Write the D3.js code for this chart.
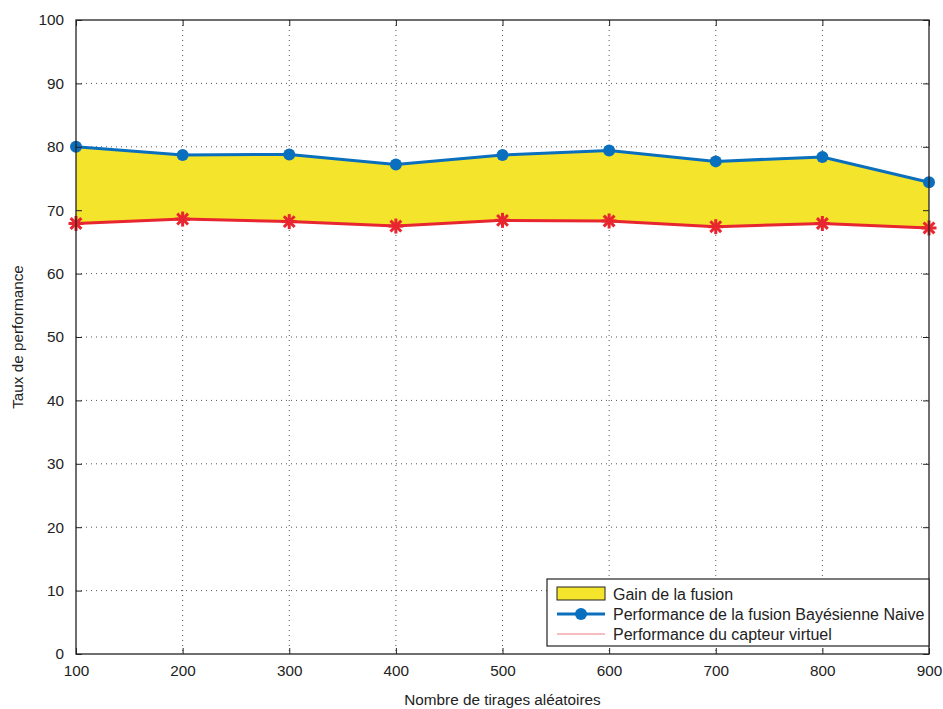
<!DOCTYPE html>
<html><head><meta charset="utf-8">
<script src="https://cdn.jsdelivr.net/npm/d3@7"></script>
<style>body{margin:0;background:#fff;} text{font-family:"Liberation Sans",Arial,Helvetica,sans-serif;}</style>
</head><body><svg id="c" width="943" height="709"></svg>
<script>
const tirages = [100,200,300,400,500,600,700,800,900];
const fusionBayes = [80.0,78.7,78.8,77.2,78.7,79.4,77.7,78.4,74.4];
const capteurVirtuel = [67.9,68.6,68.2,67.5,68.4,68.3,67.4,67.9,67.2];
const xTicks = [100,200,300,400,500,600,700,800,900];
const yTicks = [0,10,20,30,40,50,60,70,80,90,100];
const legendLabels = ["Gain de la fusion","Performance de la fusion Bayésienne Naive","Performance du capteur virtuel"];

const svg = d3.select("#c");
const L=76,R=929,T=20,B=654;
const x = d3.scaleLinear().domain([100,900]).range([L,R]);
const y = d3.scaleLinear().domain([0,100]).range([B,T]);
const blue="#0a6fbd", red="#e8262f", yellow="#f5e42c";
const FS = 15.3;

// grid
const g = svg.append("g");
g.selectAll(".gx").data(xTicks.slice(1,-1)).enter().append("line")
 .attr("x1",d=>x(d)).attr("x2",d=>x(d)).attr("y1",T).attr("y2",B)
 .attr("stroke","#555").attr("stroke-width",1).attr("stroke-dasharray","1,4");
g.selectAll(".gy").data(yTicks.slice(1,-1)).enter().append("line")
 .attr("y1",d=>y(d)).attr("y2",d=>y(d)).attr("x1",L).attr("x2",R)
 .attr("stroke","#555").attr("stroke-width",1).attr("stroke-dasharray","1,4");

// area
const data = tirages.map((t,i)=>({t,hi:fusionBayes[i],lo:capteurVirtuel[i]}));
svg.append("path").datum(data)
 .attr("d",d3.area().x(d=>x(d.t)).y0(d=>y(d.lo)).y1(d=>y(d.hi)))
 .attr("fill",yellow);

// lines
svg.append("path").datum(data).attr("d",d3.line().x(d=>x(d.t)).y(d=>y(d.hi)))
 .attr("fill","none").attr("stroke",blue).attr("stroke-width",3);
svg.append("path").datum(data).attr("d",d3.line().x(d=>x(d.t)).y(d=>y(d.lo)))
 .attr("fill","none").attr("stroke",red).attr("stroke-width",3);

svg.selectAll(".bm").data(data).enter().append("circle")
 .attr("cx",d=>x(d.t)).attr("cy",d=>y(d.hi)).attr("r",6).attr("fill",blue);

const star = (sel,s)=>{
  const a = s*0.72;
  sel.append("line").attr("x1",-s).attr("x2",s).attr("y1",0).attr("y2",0);
  sel.append("line").attr("x1",0).attr("x2",0).attr("y1",-s).attr("y2",s);
  sel.append("line").attr("x1",-a).attr("x2",a).attr("y1",-a).attr("y2",a);
  sel.append("line").attr("x1",-a).attr("x2",a).attr("y1",a).attr("y2",-a);
};
svg.selectAll(".rm").data(data).enter().append("g")
 .attr("transform",d=>`translate(${x(d.t)},${y(d.lo)})`)
 .attr("stroke",red).attr("stroke-width",3)
 .each(function(){star(d3.select(this),7.5);});

// axes box
svg.append("rect").attr("x",L).attr("y",T).attr("width",R-L).attr("height",B-T)
 .attr("fill","none").attr("stroke","#222").attr("stroke-width",1.3);

const ax = d3.axisBottom(x).tickValues(xTicks).tickSize(-6).tickPadding(10).tickFormat(d3.format("d"));
const ay = d3.axisLeft(y).tickValues(yTicks).tickSize(-6).tickPadding(12).tickFormat(d3.format("d"));
const gxA = svg.append("g").attr("transform",`translate(0,${B})`).call(ax);
const gyA = svg.append("g").attr("transform",`translate(${L},0)`).call(ay);
svg.append("g").attr("transform",`translate(0,${T})`).call(d3.axisTop(x).tickValues(xTicks).tickSize(-6).tickFormat(""));
svg.append("g").attr("transform",`translate(${R},0)`).call(d3.axisRight(y).tickValues(yTicks).tickSize(-6).tickFormat(""));
svg.selectAll(".domain").remove();
svg.selectAll(".tick line").attr("stroke","#222");
svg.selectAll(".tick text").attr("font-size",FS).attr("fill","#222")
 .style("font-family","'Liberation Sans',Arial,sans-serif");
gxA.selectAll(".tick text").attr("dy","0.8em");

svg.append("text").attr("x",(L+R)/2).attr("y",705).attr("text-anchor","middle")
 .attr("font-size",FS).attr("fill","#222").text("Nombre de tirages aléatoires");
svg.append("text").attr("transform",`translate(23,${(T+B)/2}) rotate(-90)`).attr("text-anchor","middle")
 .attr("font-size",FS).attr("fill","#222").text("Taux de performance");

// legend
const lg = svg.append("g");
lg.append("rect").attr("x",547).attr("y",579).attr("width",R-547).attr("height",67)
 .attr("fill","#fff").attr("stroke","#222").attr("stroke-width",1.2);
lg.append("rect").attr("x",557).attr("y",587).attr("width",48).attr("height",13)
 .attr("fill",yellow).attr("stroke","#222").attr("stroke-width",1);
lg.append("line").attr("x1",557).attr("x2",605).attr("y1",614).attr("y2",614).attr("stroke",blue).attr("stroke-width",3);
lg.append("circle").attr("cx",581).attr("cy",614).attr("r",6).attr("fill",blue);
lg.append("line").attr("x1",557).attr("x2",605).attr("y1",634).attr("y2",634).attr("stroke","#f07a80").attr("stroke-width",1);
lg.selectAll(".lt").data(legendLabels).enter().append("text")
 .attr("x",613).attr("y",(d,i)=>594+i*20).attr("dy","0.35em")
 .attr("font-size",16).attr("fill","#222").text(d=>d);
</script></body></html>
